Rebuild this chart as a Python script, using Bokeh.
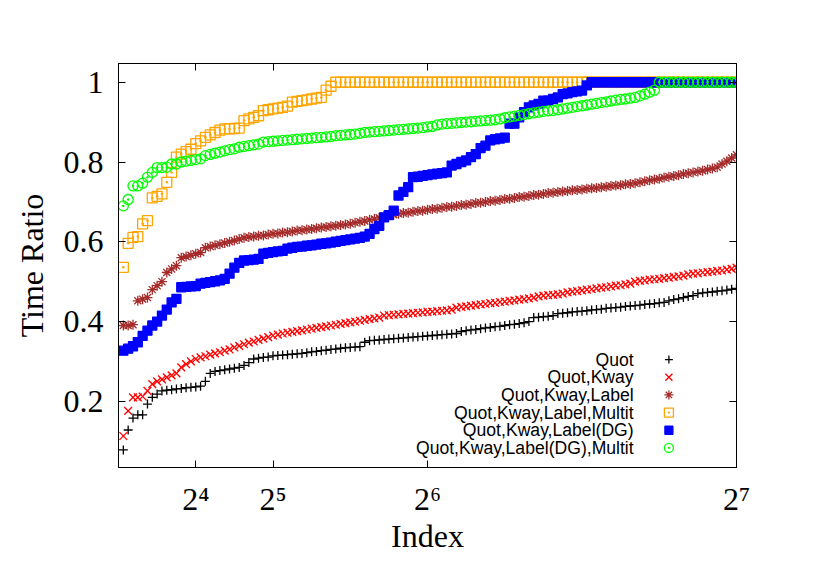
from bokeh.plotting import figure
from bokeh.models import Range1d, FixedTicker, CustomJSTickFormatter, LinearAxis
from bokeh.core.properties import value
from bokeh.embed import file_html
from bokeh.resources import INLINE

# ---------------- data ----------------
index = list(range(1, 129))

quot = [
    .078, .128, .158, .166, .166, .193, .210, .218, .226, .228, .229, .231, .232, .234, .235, .236,
    .238, .250, .270, .275, .277, .279, .281, .283, .285, .290, .297, .306, .308, .310, .311, .314,
    .315, .316, .317, .318, .319, .320, .322, .324, .325, .327, .328, .330, .331, .333, .334, .335,
    .336, .337, .348, .352, .353, .354, .355, .356, .357, .358, .359, .360, .361, .362, .363, .364,
    .365, .366, .367, .368, .369, .370, .375, .377, .379, .380, .382, .384, .385, .387, .388, .390,
    .392, .393, .395, .397, .400, .410, .411, .412, .413, .415, .420, .421, .422, .424, .425, .426,
    .427, .429, .430, .431, .433, .434, .435, .436, .438, .439, .440, .441, .443, .444, .445, .447,
    .448, .452, .455, .457, .460, .463, .465, .470, .472, .473, .474, .476, .477, .479, .481, .483,
]

quot_kway = [
    .113, .176, .210, .210, .212, .226, .243, .250, .255, .260, .265, .270, .285, .293, .300, .306,
    .310, .313, .317, .320, .323, .327, .330, .335, .339, .343, .347, .350, .354, .357, .361, .365,
    .367, .370, .372, .374, .376, .378, .380, .382, .384, .386, .388, .390, .392, .394, .396, .398,
    .400, .402, .404, .406, .408, .410, .415, .416, .417, .418, .419, .420, .421, .422, .423, .424,
    .425, .426, .427, .428, .430, .435, .437, .438, .440, .441, .443, .444, .446, .447, .449, .450,
    .452, .453, .455, .456, .458, .460, .463, .465, .466, .467, .468, .470, .473, .475, .476, .478,
    .480, .481, .483, .485, .486, .488, .490, .491, .493, .495, .500, .502, .503, .505, .506, .507,
    .509, .510, .512, .513, .515, .518, .520, .521, .523, .524, .525, .527, .528, .530, .532, .535,
]

quot_kway_label = [
    .390, .390, .392, .452, .456, .460, .480, .490, .500, .523, .532, .540, .560, .563, .566, .570,
    .573, .585, .588, .591, .594, .597, .600, .603, .607, .610, .612, .613, .615, .616, .618, .620,
    .621, .623, .624, .626, .628, .629, .631, .632, .634, .636, .637, .639, .640, .642, .643, .645,
    .648, .650, .652, .655, .657, .660, .665, .667, .668, .670, .672, .673, .675, .677, .678, .680,
    .682, .683, .685, .687, .688, .690, .692, .693, .695, .697, .698, .700, .702, .703, .705, .707,
    .708, .710, .712, .713, .715, .717, .718, .720, .722, .723, .725, .726, .727, .729, .730, .731,
    .733, .734, .735, .737, .738, .740, .741, .742, .744, .745, .747, .749, .752, .754, .756, .758,
    .761, .763, .765, .767, .770, .772, .774, .776, .778, .781, .784, .787, .795, .802, .810, .818,
]

quot_kway_label_multit = [
    .536, .596, .611, .613, .645, .653, .710, .714, .720, .749, .774, .812, .820, .826, .832, .846,
    .853, .862, .868, .874, .880, .883, .883, .884, .885, .904, .908, .912, .916, .929, .931, .933,
    .935, .937, .940, .950, .952, .954, .956, .958, .960, .962, .980, .990, 1.0, 1.0, 1.0, 1.0,
    1.0, 1.0, 1.0, 1.0, 1.0, 1.0, 1.0, 1.0, 1.0, 1.0, 1.0, 1.0, 1.0, 1.0, 1.0, 1.0,
    1.0, 1.0, 1.0, 1.0, 1.0, 1.0, 1.0, 1.0, 1.0, 1.0, 1.0, 1.0, 1.0, 1.0, 1.0, 1.0,
    1.0, 1.0, 1.0, 1.0, 1.0, 1.0, 1.0, 1.0, 1.0, 1.0, 1.0, 1.0, 1.0, 1.0, 1.0, 1.0,
    1.0, 1.0, 1.0, 1.0, 1.0, 1.0, 1.0, 1.0, 1.0, 1.0, 1.0, 1.0, 1.0, 1.0, 1.0, 1.0,
    1.0, 1.0, 1.0, 1.0, 1.0, 1.0, 1.0, 1.0, 1.0, 1.0, 1.0, 1.0, 1.0, 1.0, 1.0, 1.0,
]

quot_kway_label_dg = [
    .327, .332, .338, .348, .364, .377, .390, .400, .415, .430, .448, .457, .486, .487, .488, .489,
    .495, .497, .499, .501, .503, .507, .520, .535, .547, .553, .554, .555, .557, .570, .572, .574,
    .576, .577, .583, .585, .587, .588, .590, .591, .593, .595, .596, .598, .600, .602, .604, .606,
    .608, .610, .613, .620, .632, .640, .661, .667, .678, .716, .725, .737, .762, .763, .765, .767,
    .769, .771, .772, .774, .791, .795, .800, .804, .812, .820, .835, .841, .854, .857, .859, .861,
    .896, .896, .912, .925, .937, .942, .946, .954, .954, .958, .962, .970, .972, .975, .977, .979,
    .992, 1.0, 1.0, 1.0, 1.0, 1.0, 1.0, 1.0, 1.0, 1.0, 1.0, 1.0, 1.0, 1.0, 1.0, 1.0,
    1.0, 1.0, 1.0, 1.0, 1.0, 1.0, 1.0, 1.0, 1.0, 1.0, 1.0, 1.0, 1.0, 1.0, 1.0, 1.0,
]

quot_kway_label_dg_multit = [
    .690, .706, .740, .740, .747, .762, .774, .786, .786, .787, .795, .795, .800, .802, .804, .806,
    .808, .816, .819, .822, .825, .828, .831, .833, .837, .839, .841, .843, .845, .850, .851, .852,
    .853, .854, .855, .856, .857, .858, .859, .860, .861, .862, .863, .864, .866, .867, .868, .869,
    .870, .872, .874, .875, .876, .877, .878, .879, .880, .881, .882, .883, .884, .885, .886, .888,
    .889, .893, .895, .896, .897, .898, .899, .900, .901, .902, .903, .904, .905, .906, .908, .911,
    .913, .915, .917, .919, .921, .923, .925, .927, .928, .929, .931, .933, .935, .937, .939, .941,
    .943, .945, .947, .949, .951, .953, .955, .957, .958, .960, .962, .966, .970, .975, .980, 1.0,
    1.0, 1.0, 1.0, 1.0, 1.0, 1.0, 1.0, 1.0, 1.0, 1.0, 1.0, 1.0, 1.0, 1.0, 1.0, 1.0,
]

series_names = [
    "Quot",
    "Quot,Kway",
    "Quot,Kway,Label",
    "Quot,Kway,Label,Multit",
    "Quot,Kway,Label(DG)",
    "Quot,Kway,Label(DG),Multit",
]
series_values = [quot, quot_kway, quot_kway_label, quot_kway_label_multit,
                 quot_kway_label_dg, quot_kway_label_dg_multit]

x_ticks = [16, 32, 64, 128]
x_tick_labels = ["2\u2074", "2\u2075", "2\u2076", "2\u2077"]
y_ticks = [0.2, 0.4, 0.6, 0.8, 1.0]
y_tick_labels = ["0.2", "0.4", "0.6", "0.8", "1"]

for s in series_values:
    assert len(s) == len(index)

# ---------------- styles ----------------
styles = [
    dict(marker="cross", size=9, line_color="black", fill_color=None),
    dict(marker="x", size=11, line_color="#ff0000", fill_color=None),
    dict(marker="asterisk", size=10, line_color="#a52a2a", fill_color=None),
    dict(marker="square_dot", size=10, line_color="#ffa500", fill_color=None),
    dict(marker="square", size=9, line_color="#0000ff", fill_color="#0000ff"),
    dict(marker="circle_dot", size=10, line_color="#00ff00", fill_color=None),
]
MARK_LW = 1.3

SERIF = "Liberation Serif"
SANS = "Liberation Sans"

p = figure(width=814, height=571, output_backend="svg", toolbar_location=None,
           x_range=Range1d(0, 128), y_range=Range1d(0.034, 1.047),
           min_border_left=118, min_border_right=78, min_border_top=63,
           min_border_bottom=104)
p.grid.visible = False
p.background_fill_color = "white"
p.border_fill_color = "white"
p.outline_line_color = "black"
p.outline_line_width = 1

LOOKUP = """
const i = tv.findIndex(t => Math.abs(t - tick) < 1e-6);
return i >= 0 ? tl[i] : '';
"""
x_fmt = CustomJSTickFormatter(args=dict(tv=x_ticks, tl=x_tick_labels), code=LOOKUP)
y_fmt = CustomJSTickFormatter(args=dict(tv=y_ticks, tl=y_tick_labels), code=LOOKUP)

xa = p.xaxis[0]
xa.ticker = FixedTicker(ticks=x_ticks)
xa.formatter = x_fmt
xa.axis_label = "Index"
ya = p.yaxis[0]
ya.ticker = FixedTicker(ticks=y_ticks)
ya.formatter = y_fmt
ya.axis_label = "Time Ratio"

for ax in (xa, ya):
    ax.major_label_text_font = SERIF
    ax.major_label_text_font_size = "32px"
    ax.major_label_text_color = "black"
    ax.axis_label_text_font = SERIF
    ax.axis_label_text_font_size = "32px"
    ax.axis_label_text_font_style = "normal"
    ax.axis_label_text_color = "black"
    ax.major_label_standoff = 15
xa.major_label_standoff = 13
xa.axis_label_standoff = -2
ya.axis_label_standoff = 11

top = LinearAxis(ticker=FixedTicker(ticks=x_ticks),
                 formatter=CustomJSTickFormatter(code="return '';"))
right = LinearAxis(ticker=FixedTicker(ticks=y_ticks),
                   formatter=CustomJSTickFormatter(code="return '';"))
p.add_layout(top, "above")
p.add_layout(right, "right")

for ax in (xa, ya, top, right):
    ax.axis_line_color = "black"
    ax.major_tick_line_color = "black"
    ax.major_tick_in = 7
    ax.major_tick_out = 0
    ax.minor_tick_in = 0
    ax.minor_tick_out = 0
for ax in (top, right):
    ax.major_label_text_font_size = "0px"
    ax.major_label_standoff = 0

# ---------------- series ----------------
for vals, st in zip(series_values, styles):
    p.scatter(x=index, y=vals, marker=st["marker"], size=st["size"],
              line_color=st["line_color"], fill_color=st["fill_color"], line_width=MARK_LW)

# ---------------- key (text then sample, as in the original) ----------------
key_x_text = 106.7
key_x_mark = 114.0
key_y_top = 0.3046
key_step = 0.0443
key_y = [key_y_top - i * key_step for i in range(len(series_names))]

p.text(x=[key_x_text] * len(series_names), y=key_y, text=series_names,
       text_align="right", text_baseline="middle", text_color="black",
       text_font=value(SANS), text_font_size=value("17.6px"))
for yk, st in zip(key_y, styles):
    p.scatter(x=[key_x_mark], y=[yk], marker=st["marker"], size=st["size"] - 1,
              line_color=st["line_color"], fill_color=st["fill_color"], line_width=MARK_LW)

open("out.html", "w").write(file_html(p, INLINE))
